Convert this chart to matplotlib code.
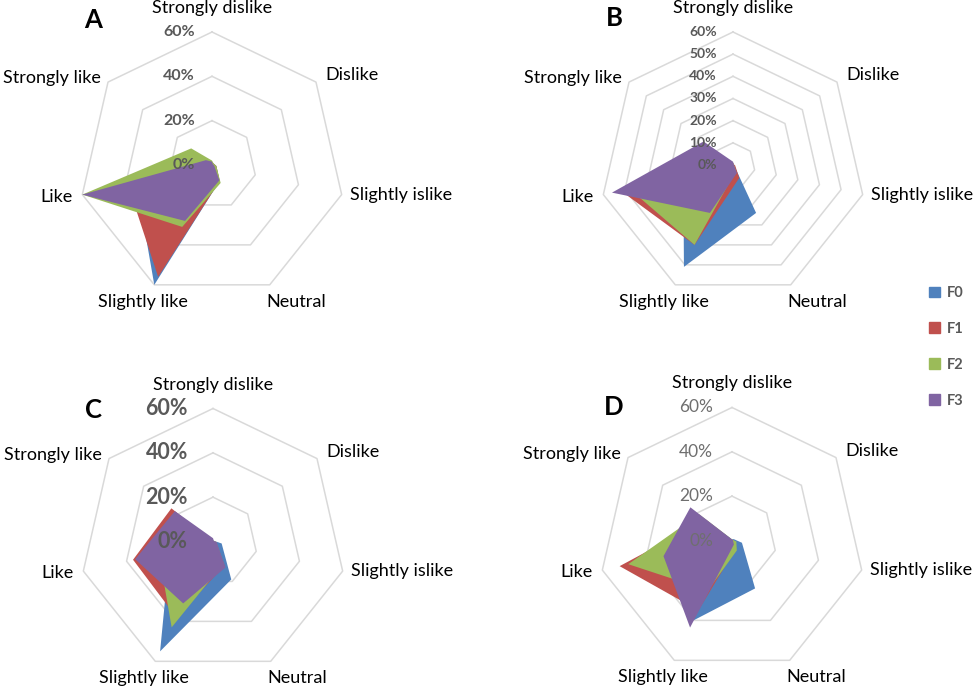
import numpy as np
import matplotlib as mpl
import matplotlib.pyplot as plt
from matplotlib.patches import Patch

mpl.use("Agg")

plt.rcParams.update({"font.family": ["Lato", "DejaVu Sans"]})

categories = ["Strongly dislike", "Dislike", "Slightly islike", "Neutral",
              "Slightly like", "Like", "Strongly like"]
series_names = ["F0", "F1", "F2", "F3"]
series_colors = ["#4F81BD", "#C0504D", "#9BBB59", "#8064A2"]

# percent per category, clockwise from "Strongly dislike"
a_f0 = [1, 1, 2, 8, 60, 35, 3]
a_f1 = [1, 1, 2, 8, 56, 39, 3]
a_f2 = [2, 1, 2, 9, 31, 60, 12]
a_f3 = [1.5, 0.5, 1, 7.7, 28, 60, 3.5]

b_f0 = [0.5, 0.5, 0.5, 24, 51, 23, 5]
b_f1 = [1, 0.5, 1, 6.5, 40, 52, 10]
b_f2 = [1, 0.5, 0.5, 3, 40, 48, 10]
b_f3 = [1.5, 0.5, 0.5, 4, 24, 56, 17]

c_f0 = [0, 0.5, 4, 19, 55, 20, 10]
c_f1 = [0, 0.5, 1.5, 12, 38, 37, 24]
c_f2 = [0.5, 0.5, 1.5, 11, 43, 25, 15]
c_f3 = [1.5, 0.5, 1.7, 13, 31, 36, 22]

d_f0 = [0.5, 1, 4.6, 24, 40, 20, 8]
d_f1 = [0, 0.5, 1, 4, 35, 52, 15]
d_f2 = [0.5, 0.5, 2, 5, 25, 48, 19]
d_f3 = [0.5, 0.5, 0.5, 2, 43.6, 31.7, 24]

ticks_20 = [0, 20, 40, 60]
ticks_10 = [0, 10, 20, 30, 40, 50, 60]

W, H = 976, 689
px = 133 / 60  # pixels per percent

panels = [
    # letter, data, ticks, center(px), tick style, tick offset, letter offset(px)
    ("A", [a_f0, a_f1, a_f2, a_f3], ticks_20, (212, 165),
     dict(size=11.5, weight="bold", color="#595959"), 17, (-119, -145)),
    ("B", [b_f0, b_f1, b_f2, b_f3], ticks_10, (733, 165),
     dict(size=10, weight="bold", color="#595959"), 16, (-119, -147)),
    ("C", [c_f0, c_f1, c_f2, c_f3], ticks_20, (213, 541.5),
     dict(size=15.5, weight="bold", color="#595959"), 25, (-120, -132)),
    ("D", [d_f0, d_f1, d_f2, d_f3], ticks_20, (732, 540.5),
     dict(size=12.5, weight="normal", color="#6f6f6f"), 19, (-118, -133)),
]

# label offsets from outer vertex in pixels (x right, y down), alignment
label_pos = [(0, -24, "center"), (9, -7, "left"), (8, 0, "left"),
             (-3, 17, "left"), (-11, 17, "center"), (-10, 2, "right"),
             (-7, -4, "right")]

theta = np.arange(len(categories)) * 2 * np.pi / len(categories)
sx = np.sin(theta)
sy = np.cos(theta)

fig = plt.figure(figsize=(W / 100, H / 100), dpi=100)

for letter, series, ticks, (cx, cy), tstyle, toff, loff in panels:
    hw, hh = 240, 180
    ax = fig.add_axes([(cx - hw) / W, 1 - (cy + hh) / H, 2 * hw / W, 2 * hh / H])
    ax.set_xlim(-hw / px, hw / px)
    ax.set_ylim(-hh / px, hh / px)
    ax.axis("off")

    for t in ticks[1:]:
        ax.plot(np.append(t * sx, t * sx[0]), np.append(t * sy, t * sy[0]),
                color="#D9D9D9", lw=1.1, zorder=1)

    for vals, col in zip(series, series_colors):
        v = np.array(vals)
        ax.fill(v * sx, v * sy, color=col, lw=0, zorder=2)

    for t in ticks:
        ax.text(-toff / px, t, f"{t}%", ha="right", va="center",
                zorder=5, **tstyle)

    rmax = ticks[-1]
    for i, name in enumerate(categories):
        dx, dy, ha = label_pos[i]
        ax.text(rmax * sx[i] + dx / px, rmax * sy[i] - dy / px, name,
                ha=ha, va="center", fontsize=13, color="black")

    ax.text(loff[0] / px, -loff[1] / px, letter, ha="center", va="center",
            fontsize=18.5, fontweight="bold", color="black")

handles = [Patch(color=c, label=n) for c, n in zip(series_colors, series_names)]
fig.legend(handles=handles, loc="upper left", bbox_to_anchor=(929 / W, 1 - 286 / H),
           frameon=False, handlelength=0.75, handleheight=0.75, handletextpad=0.45,
           labelspacing=1.5, borderpad=0, borderaxespad=0,
           prop=dict(size=10.5, weight="bold"), labelcolor="#595959")

fig.savefig("out.png", dpi=100)
